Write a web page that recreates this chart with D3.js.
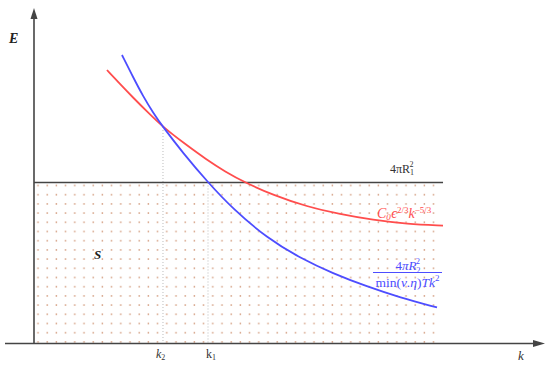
<!DOCTYPE html>
<html>
<head>
<meta charset="utf-8">
<script src="https://cdn.jsdelivr.net/npm/d3@7"></script>
<style>
  body { margin: 0; background: #fff; }
  svg { display: block; }
  text { font-family: "Liberation Serif", serif; }
</style>
</head>
<body>
<div id="chart"></div>
<script>
// Points (k, E) in arbitrary units
const redK = [1.431, 1.686, 1.941, 2.235, 2.529, 2.922, 3.392, 3.745, 4.137, 4.686, 5.353, 6.000, 6.647, 7.314, 8.020];
const redE = [8.164, 7.746, 7.343, 6.896, 6.463, 6.000, 5.478, 5.134, 4.806, 4.433, 4.084, 3.857, 3.687, 3.567, 3.516];
const blueK = [1.725, 1.941, 2.137, 2.333, 2.529, 2.922, 3.412, 3.902, 4.569, 5.216, 5.863, 6.529, 7.176, 7.902];
const blueE = [8.612, 7.955, 7.388, 6.896, 6.463, 5.687, 4.806, 4.015, 3.149, 2.552, 2.090, 1.701, 1.373, 1.075];
const levelE = 4.806;     // 4πR1²
const levelEnd = 8.02;
const shadeEnd = 7.96;
const k2 = 2.529, k1 = 3.412;
const crossE = 6.463;     // where the two curves meet

const W = 550, H = 373;
const x = d3.scaleLinear().domain([0, 10]).range([34, 544]);
const y = d3.scaleLinear().domain([0, 10]).range([343.5, 8.5]);

const svg = d3.select("#chart").append("svg")
    .attr("width", W)
    .attr("height", H);

// dotted pattern for the S area
const defs = svg.append("defs");
const pat = defs.append("pattern")
    .attr("id", "dots")
    .attr("patternUnits", "userSpaceOnUse")
    .attr("x", 34).attr("y", 180.9)
    .attr("width", 9.2).attr("height", 9.2);
pat.append("circle")
    .attr("cx", 4).attr("cy", 4.6).attr("r", 0.85)
    .attr("fill", "#d6a387");

svg.append("rect")
    .attr("x", x(0))
    .attr("y", y(levelE))
    .attr("width", x(shadeEnd) - x(0))
    .attr("height", y(0) - y(levelE))
    .attr("fill", "url(#dots)");

// dotted guides at k2 and k1
const guideTop = { [k2]: crossE, [k1]: levelE };
[k2, k1].forEach(k => {
    svg.append("line")
        .attr("x1", x(k)).attr("x2", x(k))
        .attr("y1", y(guideTop[k])).attr("y2", y(0))
        .attr("stroke", "#bbb")
        .attr("stroke-width", 1)
        .attr("stroke-dasharray", "1,2");
});

// horizontal level line
svg.append("line")
    .attr("x1", x(0)).attr("x2", x(levelEnd))
    .attr("y1", y(levelE)).attr("y2", y(levelE))
    .attr("stroke", "#444")
    .attr("stroke-width", 1.5);

// curves
const line = d3.line()
    .x(d => x(d[0]))
    .y(d => y(d[1]))
    .curve(d3.curveBasis);

svg.append("path")
    .datum(redK.map((k, i) => [k, redE[i]]))
    .attr("d", line)
    .attr("fill", "none")
    .attr("stroke", "#ff4d4d")
    .attr("stroke-width", 1.8);

svg.append("path")
    .datum(blueK.map((k, i) => [k, blueE[i]]))
    .attr("d", line)
    .attr("fill", "none")
    .attr("stroke", "#4d4dff")
    .attr("stroke-width", 1.8);

// axes with arrows
svg.append("line")
    .attr("x1", 5).attr("x2", 536)
    .attr("y1", y(0)).attr("y2", y(0))
    .attr("stroke", "#444").attr("stroke-width", 1.6);
svg.append("path")
    .attr("d", `M545,${y(0)} L533,${y(0) - 3.5} L533,${y(0) + 3.5} Z`)
    .attr("fill", "#444");

svg.append("line")
    .attr("x1", x(0)).attr("x2", x(0))
    .attr("y1", y(0)).attr("y2", 17)
    .attr("stroke", "#444").attr("stroke-width", 1.6);
svg.append("path")
    .attr("d", `M${x(0)},8 L${x(0) - 3.5},19 L${x(0) + 3.5},19 Z`)
    .attr("fill", "#444");

// labels
svg.append("text")
    .attr("x", 9).attr("y", 43)
    .attr("font-size", 14).attr("font-weight", "bold").attr("font-style", "italic")
    .attr("fill", "#222")
    .text("E");

svg.append("text")
    .attr("x", 94).attr("y", 259)
    .attr("font-size", 13).attr("font-weight", "bold").attr("font-style", "italic")
    .attr("fill", "#222")
    .text("S");

svg.append("text")
    .attr("x", 518).attr("y", 360)
    .attr("font-size", 13).attr("font-style", "italic")
    .attr("fill", "#333")
    .text("k");

const tk2 = svg.append("text")
    .attr("x", x(k2) - 7).attr("y", 358)
    .attr("font-size", 12).attr("fill", "#333");
tk2.append("tspan").attr("font-style", "italic").text("k");
tk2.append("tspan").attr("font-size", 8).attr("dy", 2).text("2");

const tk1 = svg.append("text")
    .attr("x", x(k1) - 2).attr("y", 358)
    .attr("font-size", 12).attr("fill", "#333")
    .attr("font-family", "Liberation Sans, sans-serif");
tk1.append("tspan").text("k");
tk1.append("tspan").attr("font-size", 8).attr("dy", 2).text("1");

// 4πR1² label
const tl = svg.append("text")
    .attr("x", 390).attr("y", 173)
    .attr("font-size", 12).attr("fill", "#333")
    .attr("font-family", "Liberation Sans, sans-serif");
tl.append("tspan").text("4πR");
tl.append("tspan").attr("font-size", 8).attr("dy", 2).text("1");
tl.append("tspan").attr("font-size", 8).attr("dx", -4.5).attr("dy", -8).text("2");

// red label
const tr = svg.append("text")
    .attr("x", 377).attr("y", 218)
    .attr("font-size", 14).attr("fill", "#ff4d4d").attr("font-style", "italic");
tr.append("tspan").text("C");
tr.append("tspan").attr("font-size", 9).attr("dy", 2).text("0");
tr.append("tspan").attr("dx", 0.5).attr("dy", -2).text("ϵ");
tr.append("tspan").attr("font-size", 9).attr("dy", -5).attr("font-style", "normal").text("2/3");
tr.append("tspan").attr("dy", 5).text("k");
tr.append("tspan").attr("font-size", 9).attr("dy", -5).attr("font-style", "normal").text("−5/3");

// blue fraction label
const blueLbl = svg.append("g").attr("fill", "#4d4dff");
const num = blueLbl.append("text")
    .attr("x", 408).attr("y", 270)
    .attr("text-anchor", "middle")
    .attr("font-size", 13);
num.append("tspan").text("4");
num.append("tspan").attr("font-style", "italic").text("πR");
num.append("tspan").attr("font-size", 8.5).attr("dy", 2.5).text("2");
num.append("tspan").attr("font-size", 8.5).attr("dx", -4.8).attr("dy", -9).text("2");

blueLbl.append("line")
    .attr("x1", 373).attr("x2", 442)
    .attr("y1", 272.5).attr("y2", 272.5)
    .attr("stroke", "#4d4dff").attr("stroke-width", 1);

const den = blueLbl.append("text")
    .attr("x", 407.5).attr("y", 286.5)
    .attr("text-anchor", "middle")
    .attr("font-size", 13.5);
den.append("tspan").text("min(");
den.append("tspan").attr("font-style", "italic").text("ν.η");
den.append("tspan").text(")");
den.append("tspan").attr("font-style", "italic").text("Tk");
den.append("tspan").attr("font-size", 9).attr("dy", -5.5).text("2");
</script>
</body>
</html>
